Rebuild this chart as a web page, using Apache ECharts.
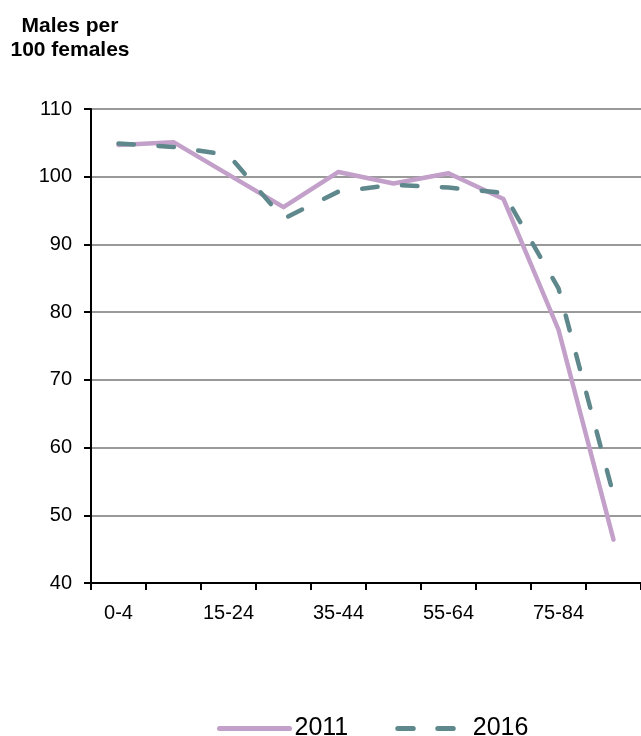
<!DOCTYPE html>
<html>
<head>
<meta charset="utf-8">
<script src="https://cdn.jsdelivr.net/npm/echarts@6/dist/echarts.min.js"></script>
<style>
html,body{margin:0;padding:0;background:#fff;}
#chart{width:641px;height:736px;}
</style>
</head>
<body>
<div id="chart"></div>
<script>
const categories = ['0-4','5-14','15-24','25-34','35-44','45-54','55-64','65-74','75-84','85+'];
const series2011 = [104.7, 105.1, 100.3, 95.5, 100.7, 99.0, 100.5, 96.7, 77.4, 46.4];
const series2016 = [104.9, 104.4, 103.2, 93.8, 97.8, 98.8, 98.4, 97.6, 83.5, 53.0];
const yTicks = { min: 40, max: 110, interval: 10 };

const FONT = "'Liberation Sans', Arial, sans-serif";
const chart = echarts.init(document.getElementById('chart'), null, { renderer: 'canvas' });
chart.setOption({
  animation: false,
  backgroundColor: '#ffffff',
  title: {
    text: 'Males per\n100 females',
    left: 65,
    top: 9,
    textAlign: 'center',
    textStyle: { fontFamily: FONT, fontSize: 21, fontWeight: 'bold', color: '#000', lineHeight: 24, align: 'center' }
  },
  legend: {
    left: 212,
    top: 711,
    itemWidth: 70,
    itemHeight: 14,
    itemGap: 47,
    itemStyle: { opacity: 0 },
    lineStyle: { width: 5 },
    textStyle: { fontFamily: FONT, fontSize: 25, color: '#000' },
    data: ['2011', '2016']
  },
  grid: { left: 91, top: 109, width: 555, height: 474, containLabel: false },
  xAxis: {
    type: 'category',
    data: categories,
    boundaryGap: true,
    axisLine: { lineStyle: { color: '#000', width: 2 } },
    axisTick: { show: true, length: 7, interval: 0, lineStyle: { color: '#000', width: 2 } },
    axisLabel: { interval: 1, fontFamily: FONT, fontSize: 20, color: '#000', margin: 20 },
    splitLine: { show: false }
  },
  yAxis: {
    type: 'value',
    min: yTicks.min,
    max: yTicks.max,
    interval: yTicks.interval,
    axisLine: { show: true, lineStyle: { color: '#000', width: 2 } },
    axisTick: { show: true, length: 7, lineStyle: { color: '#000', width: 2 } },
    axisLabel: { fontFamily: FONT, fontSize: 20, color: '#000', margin: 19 },
    splitLine: { show: true, lineStyle: { color: '#999999', width: 2 } }
  },
  series: [
    {
      name: '2011',
      type: 'line',
      data: series2011,
      symbol: 'none',
      smooth: false,
      itemStyle: { color: '#C3A0C9' },
      lineStyle: { color: '#C3A0C9', width: 4.5, cap: 'round', join: 'round' }
    },
    {
      name: '2016',
      type: 'line',
      data: series2016,
      symbol: 'none',
      smooth: false,
      itemStyle: { color: '#5F888C' },
      lineStyle: { color: '#5F888C', width: 4.5, type: [15.5, 24.5], cap: 'round', join: 'round' }
    }
  ]
});
</script>
</body>
</html>
